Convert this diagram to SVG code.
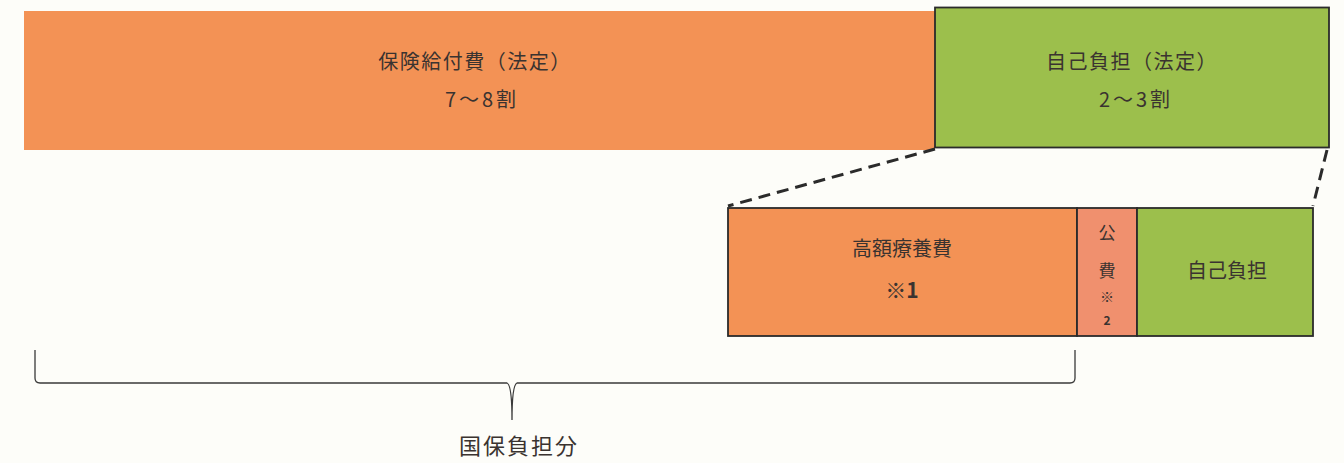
<svg xmlns="http://www.w3.org/2000/svg" width="1344" height="463" viewBox="0 0 1344 463">
<style>
text{font-family:"Noto Sans CJK JP","Noto Sans",sans-serif;fill:#3a3330;text-anchor:middle}
.t{font-size:20px}
.b{font-size:21px;font-weight:bold}
.dash{stroke:#2b2b2b;stroke-width:3;stroke-dasharray:12,7;fill:none}
.box{stroke:#2b2b2b;stroke-width:1.8}
</style>
<rect width="1344" height="463" fill="#fdfdf9"/>
<g id="hoken">
<rect x="24" y="11" width="911" height="139" fill="#f39255"/>
<text class="t" x="475" y="69" letter-spacing="1.5">保険給付費（法定）</text>
<text class="t" x="482" y="107" letter-spacing="3">7～8割</text>
</g>
<g id="jiko-hotei">
<rect class="box" x="935" y="7.5" width="394" height="140" fill="#9cbf4c"/>
<text class="t" x="1132" y="69" letter-spacing="1.5">自己負担（法定）</text>
<text class="t" x="1136" y="107" letter-spacing="3">2～3割</text>
</g>
<g id="kogaku">
<rect class="box" x="728" y="208" width="349" height="128" fill="#f39255"/>
<text class="t" x="902" y="256" font-size="21">高額療養費</text>
<text class="b" x="902" y="298">※1</text>
</g>
<g id="kohi">
<rect class="box" x="1077" y="208" width="60" height="128" fill="#f0906e"/>
<text x="1107" y="239" font-size="17">公</text>
<text x="1107" y="277" font-size="17">費</text>
<text x="1107" y="302" font-size="14">※</text>
<text x="1107" y="325" font-size="12" font-weight="bold" font-family="Liberation Sans,sans-serif">2</text>
</g>
<g id="jiko">
<rect class="box" x="1137" y="208" width="176" height="128" fill="#9cbf4c"/>
<text class="t" x="1227" y="278">自己負担</text>
</g>
<g id="connectors">
<line class="dash" x1="935" y1="149" x2="728" y2="206"/>
<line class="dash" x1="1327" y1="150" x2="1313" y2="206"/>
<path d="M35 350 V378 Q35 383 40 383 H507 Q512 385 512 420 Q512 385 517 383 H1070 Q1075 383 1075 378 V350" fill="none" stroke="#3a3a3a" stroke-width="1.3"/>
</g>
<g id="label">
<text x="519" y="454" font-size="22" letter-spacing="2">国保負担分</text>
</g>
</svg>
